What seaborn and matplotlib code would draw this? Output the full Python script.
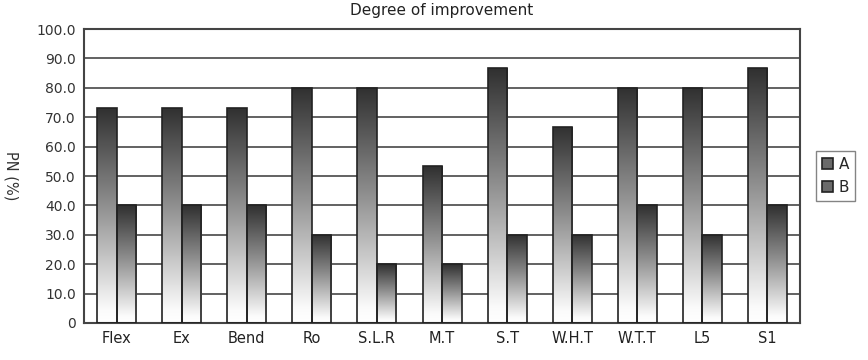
import numpy as np
import pandas as pd
import seaborn as sns
import matplotlib.pyplot as plt
from matplotlib.colors import LinearSegmentedColormap
from matplotlib.patches import Patch

CATEGORIES = ["Flex", "Ex", "Bend", "Ro", "S.L.R", "M.T", "S.T", "W.H.T", "W.T.T", "L5", "S1"]
VALUES_A = [73.3, 73.3, 73.3, 80.0, 80.0, 53.3, 86.7, 66.7, 80.0, 80.0, 86.7]
VALUES_B = [40.0, 40.0, 40.0, 30.0, 20.0, 20.0, 30.0, 30.0, 40.0, 30.0, 40.0]
SERIES = ["A", "B"]
Y_TICKS = [0, 10, 20, 30, 40, 50, 60, 70, 80, 90, 100]
Y_TICK_LABELS = ["0", "10.0", "20.0", "30.0", "40.0", "50.0", "60.0", "70.0", "80.0", "90.0", "100.0"]


def gradient_bars(ax, cmap):
    # paint every bar with a vertical gradient, clipped to the bar outline
    xlim, ylim = ax.get_xlim(), ax.get_ylim()
    grad = np.linspace(0, 1, 256).reshape(-1, 1)
    for bar in ax.patches:
        x, y = bar.get_x(), bar.get_y()
        w, h = bar.get_width(), bar.get_height()
        if h == 0:
            continue
        im = ax.imshow(grad, extent=[x, x + w, y, y + h], origin="lower",
                       aspect="auto", cmap=cmap, zorder=2, interpolation="bicubic")
        im.set_clip_path(bar)
        bar.set_facecolor("none")
        bar.set_zorder(3)
    ax.set_xlim(xlim)
    ax.set_ylim(ylim)


def plot_chart(df):
    sns.set_style("white")
    plt.rcParams["font.family"] = ["DejaVu Sans"]

    fig = plt.figure(figsize=(8.68, 3.6), dpi=100)
    ax = fig.add_axes([0.0968, 0.1028, 0.8249, 0.8166])

    sns.barplot(data=df, x="category", y="value", hue="series",
                order=CATEGORIES, hue_order=SERIES,
                palette=["white", "white"], width=0.6,
                edgecolor="#222222", linewidth=1.2, ax=ax, legend=False)

    ax.set_ylim(0, 100)
    ax.set_xlim(-0.5, len(CATEGORIES) - 0.5)

    cmap = LinearSegmentedColormap.from_list(
        "bar_grad", [(0.0, "#ffffff"), (0.06, "#fbfbfb"), (0.55, "#8e8e8e"), (1.0, "#303030")])
    gradient_bars(ax, cmap)

    ax.set_axisbelow(True)
    ax.yaxis.grid(True, color="#555555", linewidth=1.3)
    for s in ax.spines.values():
        s.set_color("#444444")
        s.set_linewidth(1.5)

    ax.set_yticks(Y_TICKS)
    ax.set_yticklabels(Y_TICK_LABELS, fontsize=10, color="#333333")
    ax.tick_params(axis="y", length=0, pad=6)
    ax.tick_params(axis="x", length=0, pad=6, labelsize=10.5, labelcolor="#222222")
    ax.set_xticks(np.arange(len(CATEGORIES)) + 0.5, minor=True)
    ax.tick_params(axis="x", which="minor", direction="in", length=3, color="#444444", width=1)

    ax.set_xlabel("")
    ax.set_ylabel("PN (%)", rotation=270, fontsize=10.5, color="#333333")
    ax.yaxis.set_label_coords(-0.112, 0.5)

    ax.set_title("Degree of improvement", fontsize=11, color="#222222", pad=10)

    handles = [Patch(facecolor="#6a6a6a", edgecolor="#222222", linewidth=1.2, label=s) for s in SERIES]
    leg = ax.legend(handles=handles, loc="center left", bbox_to_anchor=(1.022, 0.5),
                    frameon=True, fancybox=False, fontsize=11, handlelength=0.7,
                    handleheight=0.7, handletextpad=0.4, borderpad=0.4, labelspacing=0.5,
                    borderaxespad=0)
    leg.get_frame().set_edgecolor("#666666")
    leg.get_frame().set_linewidth(1.0)

    fig.savefig("out.png", dpi=100)


if __name__ == "__main__":
    df = pd.DataFrame({
        "category": CATEGORIES * 2,
        "series": ["A"] * len(CATEGORIES) + ["B"] * len(CATEGORIES),
        "value": VALUES_A + VALUES_B,
    })
    plot_chart(df)
